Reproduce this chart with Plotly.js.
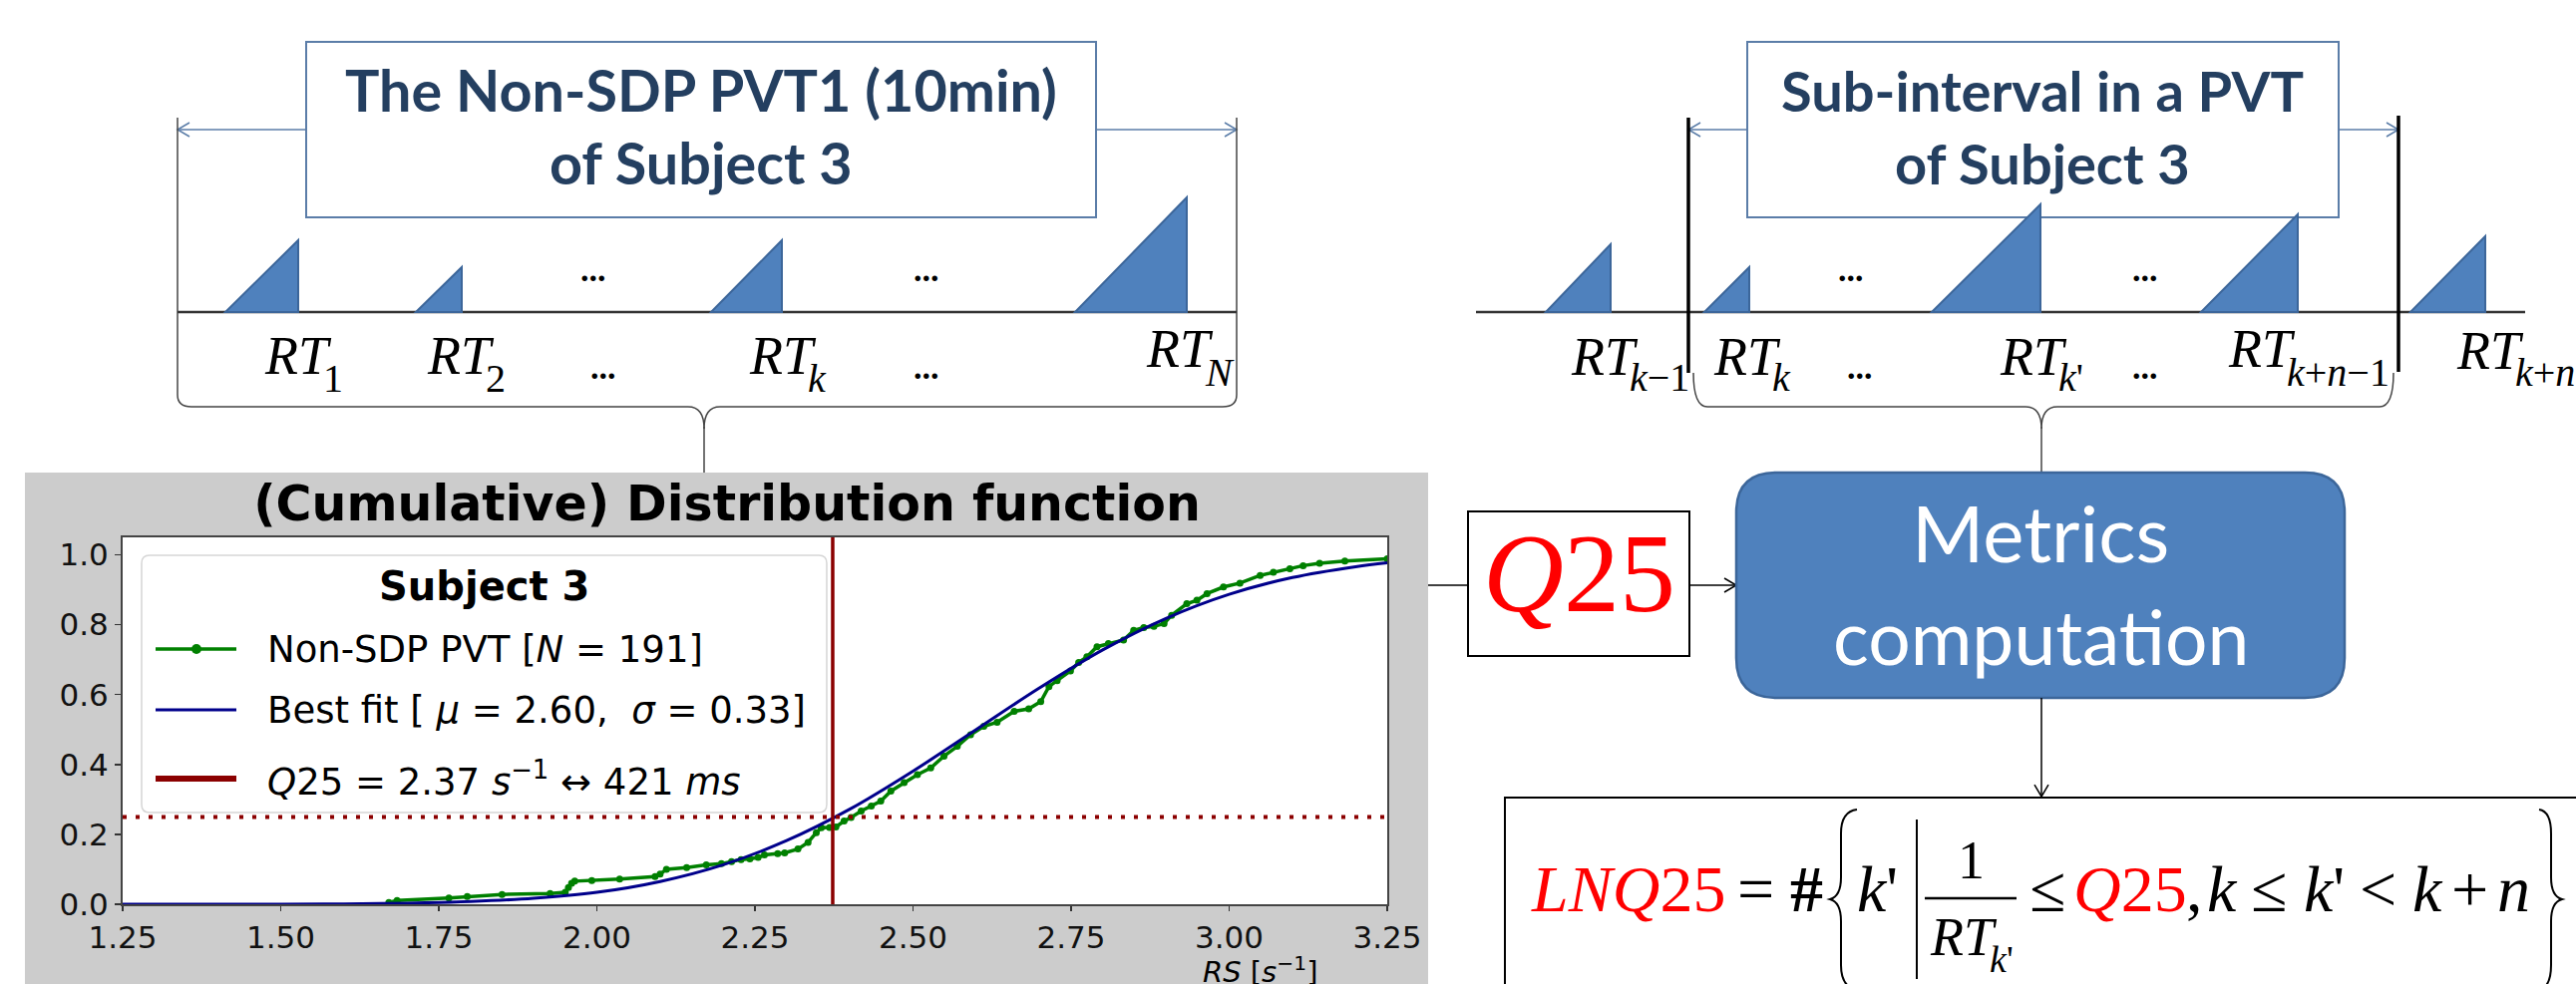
<!DOCTYPE html>
<html><head><meta charset="utf-8">
<script src="https://cdn.plot.ly/plotly-3.0.1.min.js"></script>
<style>html,body{margin:0;padding:0;background:#fff;overflow:hidden}#chart{width:2583px;height:987px}</style>
</head><body><div id="chart"></div>
<script>
// ---------------- data ----------------
const rsEmpirical = [1.671,1.684,1.766,1.795,1.850,1.926,1.950,1.955,1.960,1.965,1.992,2.036,2.092,2.100,2.110,2.142,2.173,2.197,2.213,2.228,2.242,2.255,2.265,2.286,2.297,2.318,2.334,2.347,2.355,2.368,2.378,2.391,2.402,2.418,2.434,2.449,2.465,2.486,2.507,2.528,2.549,2.570,2.591,2.612,2.633,2.660,2.683,2.702,2.715,2.728,2.749,2.762,2.775,2.791,2.809,2.833,2.849,2.865,2.881,2.897,2.909,2.933,2.949,2.965,2.991,3.017,3.049,3.070,3.096,3.117,3.143,3.183,3.250];
const cdfEmpirical = [0.005,0.011,0.018,0.022,0.028,0.031,0.034,0.048,0.060,0.066,0.068,0.072,0.079,0.086,0.100,0.105,0.113,0.116,0.122,0.128,0.130,0.134,0.141,0.145,0.147,0.158,0.177,0.205,0.219,0.220,0.221,0.238,0.248,0.267,0.281,0.295,0.324,0.348,0.371,0.390,0.424,0.452,0.485,0.509,0.521,0.552,0.559,0.580,0.623,0.640,0.668,0.692,0.708,0.737,0.746,0.756,0.784,0.792,0.795,0.803,0.827,0.860,0.870,0.889,0.908,0.919,0.941,0.950,0.960,0.969,0.976,0.982,0.989];
const rsFit = [1.25,1.50,1.60,1.70,1.80,1.90,2.00,2.10,2.20,2.30,2.40,2.50,2.60,2.70,2.80,2.90,3.00,3.10,3.20,3.25];
const cdfFit = [0.000,0.000,0.001,0.003,0.008,0.017,0.034,0.065,0.113,0.182,0.272,0.381,0.500,0.619,0.728,0.818,0.887,0.935,0.966,0.977];
const q25Rate = [2.373, 2.373];
const q25Span = [0, 1.05];
const quantileX = [1.25, 3.25];
const quantileLevel = [0.25, 0.25];
const xTickVals = [1.25,1.50,1.75,2.00,2.25,2.50,2.75,3.00,3.25];
const yTickVals = [0.0,0.2,0.4,0.6,0.8,1.0];
const seriesNames = ['Non-SDP PVT [<i>N</i> = 191]', 'Best fit [ <i>μ</i> = 2.60,  <i>σ</i> = 0.33]', '<i>Q</i>25 = 2.37 <i>s</i><sup>−1</sup> ↔ 421 <i>ms</i>'];
const legendTitle = 'Subject 3';
const chartTitle = '(Cumulative) Distribution function';
const xAxisLabel = '<i>RS</i> [<i>s</i><sup>−1</sup>]';
const leftBoxLines = ['The Non-SDP PVT1 (10min)', 'of Subject 3'];
const rightBoxLines = ['Sub-interval in a PVT', 'of Subject 3'];
const leftSubs = ['1', '2', '<i>k</i>', '<i>N</i>'];
const rightSubs = ['<i>k</i>−1', '<i>k</i>', "<i>k</i>'", '<i>k</i>+<i>n</i>−1', '<i>k</i>+<i>n</i>'];
const metricsLines = ['Metrics', 'computation'];

// ---------------- layout helpers (pixels -> paper) ----------------
const W = 2583, H = 987;
const fx = p => p / W, fy = p => 1 - p / H;
const SERIF = 'Liberation Serif', LATO = 'Lato', DJ = 'DejaVu Sans';
const K = {[SERIF]: 0.338, [LATO]: 0.387, [DJ]: 0.346};
function pth(cmds){
  return cmds.map(c => { let s = c[0]; for (let i = 1; i < c.length; i += 2) s += (i>1?' ':'') + fx(c[i]).toFixed(5) + ',' + fy(c[i+1]).toFixed(5); return s; }).join(' ');
}
const shapes = [], ann = [];
function line(x0,y0,x1,y1,color,width,dash){ shapes.push({type:'line',xref:'paper',yref:'paper',x0:fx(x0),y0:fy(y0),x1:fx(x1),y1:fy(y1),line:{color:color,width:width,dash:dash||'solid'}}); }
function rect(x0,y0,x1,y1,fill,lc,lw,layer){ shapes.push({type:'rect',xref:'paper',yref:'paper',x0:fx(x0),y0:fy(y0),x1:fx(x1),y1:fy(y1),fillcolor:fill,line:{color:lc,width:lw},layer:layer||'above'}); }
function shp(cmds,fill,lc,lw,layer){ shapes.push({type:'path',xref:'paper',yref:'paper',path:pth(cmds),fillcolor:fill,line:{color:lc,width:lw},layer:layer||'above'}); }
function txt(text,x,base,size,family,color,xanchor){ ann.push({xref:'paper',yref:'paper',x:fx(x),y:fy(base - K[family]*size),xanchor:xanchor||'center',yanchor:'middle',text:text,showarrow:false,font:{family:family,size:size,color:color||'#000'},borderpad:0}); }
function arrowHead(x,y,dir,color,w){ const a=12,b=7; const pts={l:[[x+a,y-b],[x+a,y+b]],r:[[x-a,y-b],[x-a,y+b]],d:[[x-b,y-a],[x+b,y-a]]}[dir];
  shp([['M',pts[0][0],pts[0][1]],['L',x,y],['L',pts[1][0],pts[1][1]]],'rgba(0,0,0,0)',color,w); }
function rrect(x0,y0,x1,y1,r){ return [['M',x0+r,y0],['L',x1-r,y0],['Q',x1,y0,x1,y0+r],['L',x1,y1-r],['Q',x1,y1,x1-r,y1],['L',x0+r,y1],['Q',x0,y1,x0,y1-r],['L',x0,y0+r],['Q',x0,y0,x0+r,y0],['Z']]; }
function underBrace(x0,x1,xc,yEnd,yH,yTip){ const r=14;
  return [['M',x0,yEnd],['Q',x0,yH,x0+r,yH],['L',xc-16,yH],['Q',xc,yH,xc,yTip],['Q',xc,yH,xc+16,yH],['L',x1-r,yH],['Q',x1,yH,x1,yEnd]]; }

const BLUE = '#4F81BD', BLUE_D = '#3C669A', BOXLINE = '#5B7DA8', NAVY = '#243F60';

// ---------------- chart panel background ----------------
rect(25,474,1432,1000,'#cccccc','rgba(0,0,0,0)',0,'below');
rect(123,539,1391,907,'#ffffff','rgba(0,0,0,0)',0,'below');

// ---------------- left timeline ----------------
const BASE = 313;
rect(307,42,1099,218,'#ffffff',BOXLINE,2);
leftBoxLines.forEach((t,i)=>txt('<b>'+t+'</b>',703,[112,185][i],57.5,LATO,NAVY));
line(178,130,307,130,BOXLINE,1.5); line(1099,130,1240,130,BOXLINE,1.5);
arrowHead(178,130,'l',BOXLINE,1.5); arrowHead(1240,130,'r',BOXLINE,1.5);
line(178,118,178,396,'#444',1.5); line(1240,118,1240,396,'#444',1.5);
line(178,BASE,1240,BASE,'#333',2.5);
[[226,299,241],[417,463,268],[713,784,241],[1078,1190,198]].forEach(t=>shp([['M',t[0],BASE],['L',t[1],BASE],['L',t[1],t[2]],['Z']],BLUE,BLUE_D,2));
shp(underBrace(178,1240,706,396,408,430),'rgba(0,0,0,0)','#444',1.5);
line(706,428,706,474,'#444',1.5);
[[264,375,393],[427,375,393],[750,375,393],[1148,368,387]].forEach((p,i)=>{ txt('<i>RT</i>',p[0],p[1],54,SERIF,'#000','left'); txt(leftSubs[i],p[0]+59,p[2],40,SERIF,'#000','left'); });
[[595,282],[929,282],[605,380],[929,380]].forEach(p=>txt('<b>...</b>',p[0],p[1],34,SERIF));

// ---------------- right timeline ----------------
rect(1752,42,2345,218,'#ffffff',BOXLINE,2);
rightBoxLines.forEach((t,i)=>txt('<b>'+t+'</b>',2048,[112,185][i],56,LATO,NAVY));
line(1693,130,1752,130,BOXLINE,1.5); line(2345,130,2405,130,BOXLINE,1.5);
arrowHead(1693,130,'l',BOXLINE,1.5); arrowHead(2405,130,'r',BOXLINE,1.5);
line(1480,BASE,2532,BASE,'#333',2.5);
[[1550,1615,245],[1709,1754,268],[1937,2046,205],[2207,2304,215],[2417,2492,237]].forEach(t=>shp([['M',t[0],BASE],['L',t[1],BASE],['L',t[1],t[2]],['Z']],BLUE,BLUE_D,2));
line(1693,118,1693,374,'#000',3.5); line(2405,116,2405,373,'#000',3.5);
shp(underBrace(1698,2400,2047,374,408,430),'rgba(0,0,0,0)','#444',1.5);
line(2047,428,2047,474,'#444',1.5);
[[1574,376,392],[1717,376,392],[2004,376,392],[2233,368,387],[2462,370,387]].forEach((p,i)=>{ txt('<i>RT</i>',p[0],p[1],54,SERIF,'#000','left'); txt(rightSubs[i],p[0]+59,p[2],40,SERIF,'#000','left'); });
[[1856,282],[2151,282],[1865,380],[2151,380]].forEach(p=>txt('<b>...</b>',p[0],p[1],34,SERIF));

// ---------------- Q25 box, metrics box, formula ----------------
line(1432,587,1472,587,'#000',1.5);
rect(1472,513,1694,658,'#ffffff','#000',2);
txt('<i>Q</i>25',1583,613,112,SERIF,'#ff0000');
line(1694,587,1741,587,'#000',1.5); arrowHead(1741,587,'r','#000',1.5);
shp(rrect(1741,474,2351,700,40),BLUE,BLUE_D,2.5);
txt(metricsLines[0],2046,564,78,LATO,'#ffffff');
txt(metricsLines[1],2046,667,75,LATO,'#ffffff');
line(2047,700,2047,799,'#000',1.5); arrowHead(2047,799,'d','#000',1.5);
rect(1509,800,2620,1020,'#ffffff','#000',2);
const FB = 914, FS = 66;
txt('<i>LNQ</i>25',1632,FB,FS,SERIF,'#ff0000');
txt('=',1760,FB,FS,SERIF); txt('<b>#</b>',1811,FB,FS,SERIF);
txt("<i>k</i>'",1882,FB,FS,SERIF);
txt('≤',2053,FB,FS,SERIF); txt('<i>Q</i>25',2136,FB,FS,SERIF,'#ff0000');
txt(',',2200,FB,FS,SERIF); txt('<i>k</i>',2228,FB,FS,SERIF); txt('≤',2275,FB,FS,SERIF);
txt("<i>k</i>'",2330,FB,FS,SERIF); txt('<',2384,FB,FS,SERIF); txt('<i>k</i>',2434,FB,FS,SERIF);
txt('+',2476,FB,FS,SERIF); txt('<i>n</i>',2520,FB,FS,SERIF);
txt('1',1976,881,54,SERIF); line(1930,901,2022,901,'#000',2.5);
txt('<i>RT</i>',1934,958,54,SERIF,'#000','left'); txt("<i>k</i>'",1994,975,38,SERIF,'#000','left');
line(1922,822,1922,982,'#000',2);
shp([['M',1862,812],['Q',1846,814,1846,836],['L',1846,880],['Q',1846,899,1835,902],['Q',1846,905,1846,924],['L',1846,968],['Q',1846,990,1862,993]],'rgba(0,0,0,0)','#000',2);
shp([['M',2546,812],['Q',2558,814,2558,836],['L',2558,880],['Q',2558,899,2569,902],['Q',2558,905,2558,924],['L',2558,968],['Q',2558,990,2546,993]],'rgba(0,0,0,0)','#000',2);

// ---------------- chart legend (drawn like matplotlib's) ----------------
shp(rrect(142,557,829,815,8),'rgba(255,255,255,0.85)','#d6d6d6',1.5);
txt('<b>'+legendTitle+'</b>',485,602,40,DJ);
const legBase = [664,725,794];
line(156,651,237,651,'#008000',3.5);
shapes.push({type:'circle',xref:'paper',yref:'paper',x0:fx(192),x1:fx(202),y0:fy(646),y1:fy(656),fillcolor:'#008000',line:{width:0}});
line(156,712,237,712,'#00008B',3);
line(156,781,237,781,'#8B0000',6);
seriesNames.forEach((n,i)=>txt(n,267,legBase[i],37,DJ,'#000','left'));
txt(xAxisLabel,1263,983,29,DJ,'#000');

// ---------------- traces ----------------
const traces = [
  {x: rsEmpirical, y: cdfEmpirical, name: seriesNames[0], type:'scatter', mode:'lines+markers', line:{color:'#008000',width:3.5}, marker:{color:'#008000',size:7}, showlegend:false},
  {x: rsFit, y: cdfFit, name: seriesNames[1], type:'scatter', mode:'lines', line:{color:'#00008B',width:3,shape:'spline',smoothing:1}, showlegend:false},
  {x: q25Rate, y: q25Span, name: seriesNames[2], type:'scatter', mode:'lines', line:{color:'#8B0000',width:3.5}, showlegend:false},
  {x: quantileX, y: quantileLevel, name:'Q25 level', type:'scatter', mode:'lines', line:{color:'#8B0000',width:4,dash:'4px,9px'}, showlegend:false}
];
const tickFont = {family:DJ,size:31,color:'#111'};
const layout = {
  width: W, height: H, margin:{l:0,r:0,t:0,b:0}, paper_bgcolor:'#ffffff', plot_bgcolor:'#ffffff', showlegend:false,
  title:{text:'<b>'+chartTitle+'</b>', x:fx(729), xanchor:'center', y:fy(522 - 0.346*49), yanchor:'middle', font:{family:DJ,size:49,color:'#000'}},
  xaxis:{domain:[fx(123),fx(1391)], range:[1.25,3.25], tickvals:xTickVals, ticktext:xTickVals.map(v=>v.toFixed(2)), ticks:'outside', ticklen:5, tickwidth:1.5, tickcolor:'#333', showline:true, mirror:true, linecolor:'#444', linewidth:2, showgrid:false, zeroline:false, tickfont:tickFont, fixedrange:true},
  yaxis:{domain:[fy(907),fy(539)], range:[0,1.05], tickvals:yTickVals, ticktext:yTickVals.map(v=>v.toFixed(1)), ticks:'outside', ticklen:6, tickwidth:1.5, tickcolor:'#333', showline:true, mirror:true, linecolor:'#444', linewidth:2, showgrid:false, zeroline:false, tickfont:tickFont, fixedrange:true},
  shapes: shapes, annotations: ann
};
Plotly.newPlot('chart', traces, layout, {displayModeBar:false, staticPlot:true});
</script></body></html>
